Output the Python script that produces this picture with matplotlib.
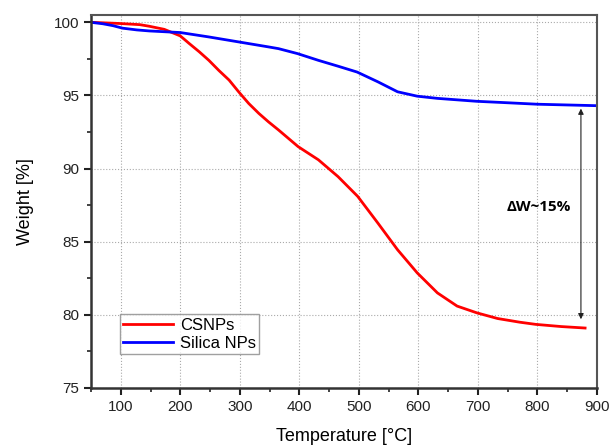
import numpy as np
import matplotlib.pyplot as plt
from matplotlib.ticker import MultipleLocator

plt.rcParams['font.family'] = ['Liberation Sans', 'DejaVu Sans']

# CSNPs (red)
temp_cs = [50, 98, 132, 148, 173, 200, 215, 232, 248, 265, 282, 298, 315, 332, 348, 365,
           398, 432, 465, 498, 532, 565, 598, 632, 665, 698, 733, 770, 797, 840, 880]
weight_cs = [100.0, 99.92, 99.84, 99.73, 99.52, 99.07, 98.55, 97.98, 97.4, 96.7, 96.05, 95.25,
             94.45, 93.77, 93.2, 92.64, 91.5, 90.6, 89.45, 88.1, 86.27, 84.45, 82.87, 81.5,
             80.6, 80.14, 79.75, 79.5, 79.35, 79.2, 79.1]

# Silica NPs (blue)
temp_si = [50, 70, 87, 103, 127, 148, 200, 248, 298, 348, 365, 397, 432, 465, 497, 532,
           565, 598, 632, 698, 750, 800, 850, 900]
weight_si = [100.0, 99.9, 99.77, 99.6, 99.48, 99.41, 99.3, 99.0, 98.66, 98.32, 98.2, 97.86,
             97.4, 97.0, 96.6, 95.93, 95.25, 94.95, 94.8, 94.6, 94.5, 94.4, 94.35, 94.3]

fig = plt.figure(figsize=(6.09, 4.45), dpi=100)
ax = fig.add_axes([91/609, 57/445, 506/609, 373/445])

ax.plot(temp_cs, weight_cs, '-', color='#ff0000', lw=2, label='CSNPs')
ax.plot(temp_si, weight_si, '-', color='#0000ff', lw=2, label='Silica NPs')

ax.set_xlim(50, 900)
ax.set_ylim(75, 100.5)
ax.xaxis.set_major_locator(MultipleLocator(100))
ax.xaxis.set_minor_locator(MultipleLocator(50))
ax.yaxis.set_major_locator(MultipleLocator(5))
ax.yaxis.set_minor_locator(MultipleLocator(2.5))
ax.grid(True, which='major', linestyle=':', color='#aaaaaa', lw=0.8)
ax.tick_params(which='major', direction='out', length=5, width=1.5, labelsize=11, colors='#222222')
ax.tick_params(which='minor', direction='out', length=3, width=1.2, colors='#222222')

for s in ['left', 'bottom']:
    ax.spines[s].set_linewidth(1.8)
    ax.spines[s].set_color('#333333')
for s in ['top', 'right']:
    ax.spines[s].set_linewidth(1.5)
    ax.spines[s].set_color('#555555')

ax.set_xlabel('Temperature [°C]', fontsize=13, labelpad=10)
ax.set_ylabel('Weight [%]', fontsize=13, labelpad=14)

ax.annotate('', xy=(873, 79.7), xytext=(873, 94.1),
            arrowprops=dict(arrowstyle='<|-|>', color='#222222', lw=0.8,
                            mutation_scale=8, shrinkA=0, shrinkB=0))
ax.text(803, 87.4, 'ΔW~15%', fontsize=11, fontweight='bold', ha='center', va='center',
        family=['Open Sans', 'DejaVu Sans'])

leg = ax.legend(loc='lower left', bbox_to_anchor=(0.057, 0.09), fontsize=12,
                fancybox=False, edgecolor='#888888', handlelength=3.0,
                borderpad=0.2, labelspacing=0.2, handletextpad=0.4, borderaxespad=0)
leg.get_frame().set_linewidth(1.0)

fig.savefig('out.png', dpi=100)
